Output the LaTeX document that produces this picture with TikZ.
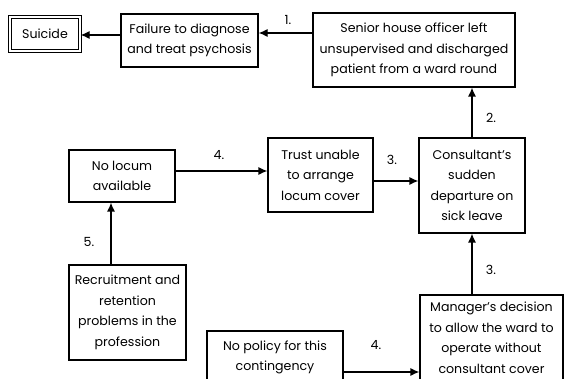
\documentclass[tikz,border=0pt]{standalone}
\usepackage{fontspec}
\setmainfont{Poppins}
\usetikzlibrary{arrows.meta}
\begin{document}
\begin{tikzpicture}[x=1pt,y=-1pt,
  box/.style={draw, line width=1.2pt, inner sep=0pt, align=center,
    font=\fontsize{12.6}{20.5}\selectfont},
  conn/.style={line width=1.2pt, -{Latex[length=9pt,width=8pt]}},
  lbl/.style={font=\fontsize{12.6}{14}\selectfont, inner sep=0pt}]
\useasboundingbox (0,0) rectangle (566,379);
\clip (0,0) rectangle (566,379);
\node[box, double, double distance=2.5pt, line width=1.2pt,
  minimum width=70pt, minimum height=34pt] (suicide) at (45,34) {Suicide};
\node[box, minimum width=137pt, minimum height=53pt] (fail) at (189.5,40.5)
  {Failure to diagnose\\and treat psychosis};
\node[box, minimum width=202pt, minimum height=74pt] (sho) at (414,50)
  {Senior house officer left\\unsupervised and discharged\\patient from a ward round};
\node[box, minimum width=106pt, minimum height=95pt] (cons) at (472,185.5)
  {Consultant's\\sudden\\departure on\\sick leave};
\node[box, minimum width=105pt, minimum height=74pt] (trust) at (320.5,175)
  {Trust unable\\to arrange\\locum cover};
\node[box, minimum width=106pt, minimum height=52pt] (locum) at (122,176)
  {No locum\\available};
\node[box, minimum width=117pt, minimum height=95pt] (recruit) at (127.5,312.5)
  {Recruitment and\\retention\\problems in the\\profession};
\node[box, minimum width=143pt, minimum height=86pt] (manager) at (491.5,338)
  {Manager's decision\\to allow the ward to\\operate without\\consultant cover};
\node[box, minimum width=136pt, minimum height=70pt] (policy) at (275,366)
  {No policy for this\\contingency\\ };
\draw[conn] (fail.west |- 0,35) -- (suicide.east |- 0,35);
\draw[conn] (sho.west |- 0,33) -- (fail.east |- 0,33);
\draw[conn] (cons.north) -- (sho.south -| cons.north);
\draw[conn] (trust.east |- 0,181) -- (cons.west |- 0,181);
\draw[conn] (locum.east |- 0,171) -- (trust.west |- 0,171);
\draw[conn] (recruit.north -| 111,0) -- (locum.south -| 111,0);
\draw[conn] (manager.north -| cons.south) -- (cons.south);
\draw[conn] (policy.east |- 0,372) -- (manager.west |- 0,372);
\node[lbl] (l1) at (288,20) {1.};
\node[lbl] (l2) at (491,118) {2.};
\node[lbl] (l3a) at (392,160) {3.};
\node[lbl] (l4a) at (219,155) {4.};
\node[lbl] (l5) at (89,242) {5.};
\node[lbl] (l3b) at (491,270) {3.};
\node[lbl] (l4b) at (376,345) {4.};
\end{tikzpicture}
\end{document}
